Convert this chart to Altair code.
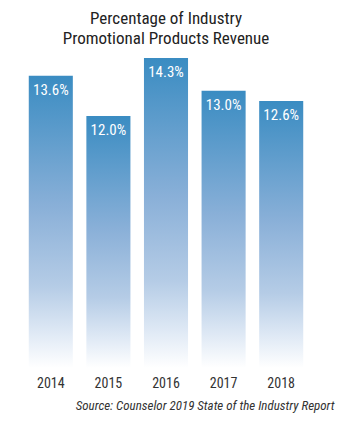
import altair as alt
import pandas as pd

years = ["2014", "2015", "2016", "2017", "2018"]
values = [13.6, 12.0, 14.3, 13.0, 12.6]
labels = ["13.6%", "12.0%", "14.3%", "13.0%", "12.6%"]
base = [2, 2, 2, 2, 2]

df = pd.DataFrame({"year": years, "value": values, "label": labels, "base": base})

FONT = "Liberation Sans Narrow, Roboto Condensed, Roboto, sans-serif"

gradient = alt.LinearGradient(
    gradient="linear",
    x1=0, x2=0, y1=0, y2=1,
    stops=[
        alt.GradientStop(offset=0.0, color="#3a8cc2"),
        alt.GradientStop(offset=0.45, color="#8ab0d8"),
        alt.GradientStop(offset=0.72, color="#b5cce6"),
        alt.GradientStop(offset=0.88, color="#dfe9f5"),
        alt.GradientStop(offset=1.0, color="#ffffff"),
    ],
)

x = alt.X(
    "year:N",
    sort=years,
    scale=alt.Scale(paddingInner=0.235, paddingOuter=0.1175),
    axis=alt.Axis(
        title="Source: Counselor 2019 State of the Industry Report",
        titleFont=FONT, titleFontStyle="italic", titleFontWeight="normal",
        titleFontSize=13, titleColor="#333333",
        titleAlign="right", titleX=312, titleY=41, titleBaseline="alphabetic",
        labelFont=FONT, labelFontSize=14, labelColor="#333333",
        labelPadding=8, labelAngle=0,
        domain=False, ticks=False,
    ),
)
y = alt.Y(
    "value:Q",
    scale=alt.Scale(domain=[2, 14.5], zero=False, clamp=True),
    axis=None,
)

bars = alt.Chart(df).mark_bar(color=gradient).encode(
    x=x, y=y, y2=alt.Y2("base:Q")
)

text = alt.Chart(df).mark_text(
    color="white", font=FONT, fontSize=15, baseline="top", dy=7
).encode(x=x, y=y, text="label:N")

chart = (
    alt.layer(bars, text)
    .properties(
        width=288,
        height=315,
        autosize=alt.AutoSizeParams(type="none"),
        padding={"left": 14, "top": 45, "right": 45, "bottom": 50},
        title=alt.TitleParams(
            text=["Percentage of Industry", "Promotional Products Revenue"],
            font=FONT, fontSize=17, fontWeight="normal", color="#222222",
            lineHeight=20, anchor="middle", offset=5,
        ),
    )
    .configure_view(stroke=None)
)

chart.save("out.html", embed_options={"renderer": "svg", "actions": False})
